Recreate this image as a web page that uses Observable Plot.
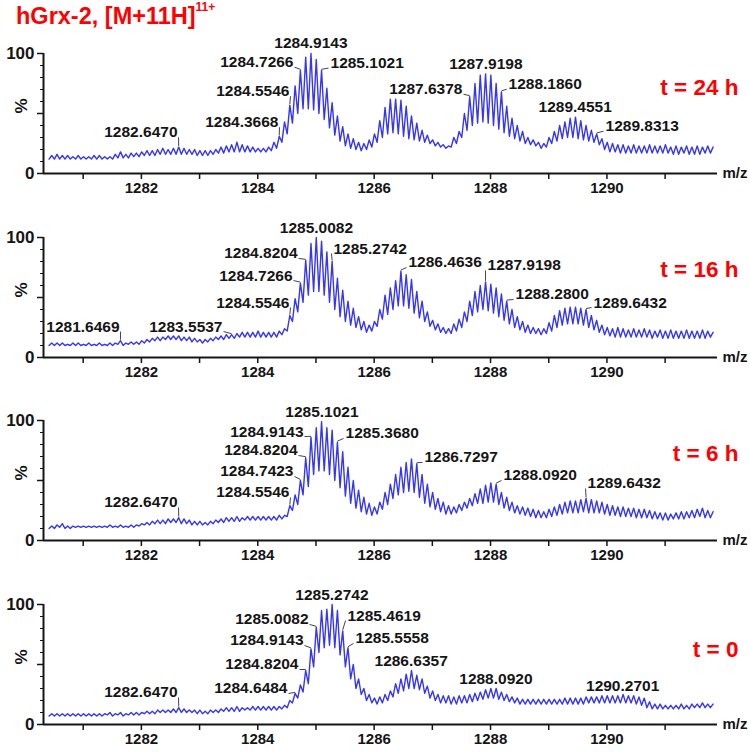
<!DOCTYPE html>
<html><head><meta charset="utf-8">
<script src="https://cdn.jsdelivr.net/npm/d3@7"></script>
<script src="https://cdn.jsdelivr.net/npm/@observablehq/plot@0.6"></script>
<style>
body{margin:0;background:#fff;width:750px;height:752px;overflow:hidden;font-family:Arial,"Liberation Sans",sans-serif;position:relative}
#title{position:absolute;left:16px;top:3px;color:#f00;font-weight:bold;font-size:23.5px;line-height:26px;white-space:nowrap}
#title sup{font-size:12px;position:relative;top:-2px;vertical-align:top;line-height:12px}
#charts{position:absolute;left:0;top:30px}
#charts svg{display:block}
</style></head><body>
<div id="title">hGrx-2, [M+11H]<sup>11+</sup></div>
<div id="charts"></div>
<script>
// ---- isotope grid (charge 11+, spacing 1/11 m/z) ----
const startMz = 1280.4598;
const isotopeStep = 1 / 11;

// ---- axis ticks ----
const xTickValues = [1281, 1282, 1283, 1284, 1285, 1286, 1287, 1288, 1289, 1290, 1291];
const xTickLabels = ["", "1282", "", "1284", "", "1286", "", "1288", "", "1290", ""];
const yMajorTicks = [0, 50, 100];
const yMinorTicks = [0, 10, 20, 30, 40, 50, 60, 70, 80, 90, 100];

const panelTimes = ["t = 24 h", "t = 16 h", "t = 6 h", "t = 0"];

// ---- spectra: isotope peak tops and the valley before each peak (% intensity) ----
const peaks24 = [
15,16,15,15,14,
15,14,14,15,15,14,14,16,18,16,17,
17,18,19,19,20,21,20,21,22,21,20,
20,19,19,19,20,22,23,24,26,24,23,
22,21,21,22,26,31,43,57,73,86,97,
100,95,86,71,59,48,39,33,29,26,25,
28,33,44,55,62,62,61,56,48,42,36,
32,28,26,24,23,30,35,50,64,75,82,
83,82,75,68,56,46,40,35,30,28,26,
25,30,35,40,43,46,47,44,40,36,33,
29,26,25,24,24,23,24,23,23,24,23,
23,24,22,23,22,23,22,23,22,23,22];
const valleys24 = [
12,12,12,12,12,
12,12,12,12,12,12,12,12,13,13,13,
14,14,15,15,15,16,16,16,16,16,16,
16,15,15,15,16,17,17,18,18,18,18,
18,18,18,18,19,21,26,33,42,50,54,
54,53,50,45,38,32,27,23,21,20,19,
20,22,26,30,33,34,33,31,29,28,27,
26,25,23,22,21,22,25,30,36,40,42,
43,42,40,37,34,31,29,27,25,24,23,
21,22,25,27,29,30,30,29,28,27,26,
24,20,18,18,17,17,17,17,17,17,17,
17,17,17,16,16,17,16,16,16,17,17];

const peaks16 = [
12,12,12,11,12,
12,11,12,11,12,11,12,12,14,12,13,
13,14,15,16,17,17,18,18,18,17,17,
16,15,15,16,17,18,19,19,20,21,21,
21,22,21,21,21,22,24,35,49,62,81,
95,100,97,88,80,66,56,47,41,34,30,
27,30,40,52,58,64,72,69,65,55,47,
38,31,28,25,24,28,32,38,47,55,60,
63,61,58,53,47,40,34,30,27,25,24,
24,29,35,39,41,42,42,41,40,35,31,
27,25,24,25,24,23,24,23,24,23,22,
23,22,23,22,22,23,22,22,23,22,21];
const valleys16 = [
10,10,10,10,10,
10,10,10,10,10,10,10,10,11,10,11,
11,11,12,13,14,14,15,15,15,14,14,
13,13,12,13,14,15,15,16,16,17,17,
17,17,17,17,17,17,19,22,30,38,46,
52,55,55,52,46,40,34,30,27,25,23,
21,22,26,32,36,40,43,43,41,37,33,
30,26,23,21,20,20,22,25,30,35,38,
40,39,37,34,31,28,25,23,21,20,20,
19,20,22,25,27,28,28,28,27,25,23,
21,19,18,17,17,17,17,17,17,17,16,
17,16,16,16,16,16,16,16,16,16,17];

const peaks6 = [
12,13,14,12,12,
12,12,12,12,12,12,13,12,13,12,13,
13,14,15,16,17,17,18,18,19,18,17,
16,16,15,16,17,18,19,19,20,19,20,
20,20,20,20,20,21,21,29,38,50,69,
86,94,99,94,92,82,74,61,50,42,36,
31,28,32,40,47,55,61,65,68,64,55,
47,40,35,32,29,28,30,32,35,39,43,
46,48,47,40,36,32,29,28,27,26,25,
24,26,28,30,32,33,33,34,35,34,33,
32,30,29,28,28,27,27,26,26,25,24,
23,23,22,23,24,24,25,26,27,25,24];
const valleys6 = [
10,10,11,10,10,
11,11,11,11,11,11,11,11,11,11,11,
11,12,13,13,14,14,14,15,15,14,14,
13,13,13,13,14,15,15,16,16,16,17,
17,17,17,17,17,17,18,20,25,30,38,
45,55,58,58,55,50,44,37,31,27,24,
22,21,22,26,30,35,38,40,41,40,36,
31,28,26,24,22,22,23,25,27,29,31,
31,32,32,30,27,25,23,22,21,20,19,
19,19,20,21,22,23,23,23,24,23,23,
23,22,21,21,20,20,20,19,19,19,18,
18,17,17,18,18,18,19,19,20,19,19];

const peaks0 = [
9,9,9,9,9,
9,9,9,9,9,9,10,9,10,9,10,
10,10,11,11,12,12,12,13,14,13,12,
12,12,11,12,12,13,14,14,15,14,14,
15,15,15,15,15,15,16,20,26,33,45,
63,81,95,96,100,95,78,64,50,38,30,
25,22,23,25,28,34,38,42,45,41,38,
32,28,25,24,24,23,24,24,25,26,27,
29,30,30,27,25,23,22,21,21,21,21,
21,21,21,21,22,22,22,22,23,23,23,
24,24,24,24,25,24,24,23,22,19,17,
17,16,16,16,17,16,17,17,18,17,17];
const valleys0 = [
7,7,7,7,7,
7,7,7,7,7,7,8,7,8,7,8,
8,8,9,9,9,10,10,10,10,10,10,
10,9,9,9,10,10,11,11,11,11,12,
12,12,12,12,12,12,13,14,18,22,27,
34,48,60,64,66,64,58,48,38,30,25,
20,18,17,18,20,23,26,28,30,30,29,
26,22,20,18,18,17,17,18,18,19,20,
21,22,22,21,20,19,18,17,17,17,17,
17,17,17,17,17,17,17,17,17,18,18,
18,18,18,18,18,18,18,17,16,14,13,
13,13,13,13,13,13,13,14,14,14,14];

// ---- peak annotations (m/z text) ----
const labels24 = ["1282.6470","1284.3668","1284.5546","1284.7266","1284.9143","1285.1021","1287.6378","1287.9198","1288.1860","1289.4551","1289.8313"];
const labels16 = ["1281.6469","1283.5537","1284.5546","1284.7266","1284.8204","1285.0082","1285.2742","1286.4636","1287.9198","1288.2800","1289.6432"];
const labels6  = ["1282.6470","1284.5546","1284.7423","1284.8204","1284.9143","1285.1021","1285.3680","1286.7297","1288.0920","1289.6432"];
const labels0  = ["1282.6470","1284.6484","1284.8204","1284.9143","1285.0082","1285.2742","1285.4619","1285.5558","1286.6357","1288.0920","1290.2701"];

// annotation placement: side of the peak, text anchor m/z (null = above peak), text centre in % units
const place24 = [["left",1282.621,34.4],["left",1284.356,42.75],["left",1284.545,68.6],["left",1284.614,92.75],["top",null,108.6],["right",1285.25,92],["left",1287.518,70.25],["top",null,91],["right",1288.31,74.4],["top",null,55.25],["right",1289.976,39.4]];
const place16 = [["left",1281.625,25.8],["left",1283.394,25.8],["left",1284.545,45.8],["left",1284.597,68.3],["left",1284.683,86.7],["top",null,107.5],["right",1285.301,90.8],["right",1286.59,79.2],["right",1287.948,76.7],["right",1288.429,52.5],["right",1289.77,45.8]];
const place6  = [["left",1282.621,31.7],["left",1284.545,40],["left",1284.614,57.5],["left",1284.683,75],["left",1284.786,90.8],["top",null,106.7],["right",1285.508,89.2],["right",1286.865,69.2],["right",1288.223,54.2],["right",1289.667,47.5]];
const place0  = [["left",1282.621,26.7],["left",1284.511,30],["left",1284.7,50],["left",1284.786,70],["left",1284.872,87.5],["top",null,108.3],["right",1285.542,90.8],["right",1285.68,71.7],["top",null,52.5],["top",null,38.3],["top",null,31.7]];

// ---- layout ----
const xDomain = [1280.318, 1291.9];
const W = 750, ML = 43, MR = 33, MT = 23;
const kx = (W - ML - MR) / (xDomain[1] - xDomain[0]); // px per m/z
const ky = 1.2; // px per % unit
const panels = [
  {time: panelTimes[0], peaks: peaks24, valleys: valleys24, labels: labels24, place: place24, height: 184, mb: 41, timeDy: 34},
  {time: panelTimes[1], peaks: peaks16, valleys: valleys16, labels: labels16, place: place16, height: 183, mb: 40, timeDy: 32},
  {time: panelTimes[2], peaks: peaks6,  valleys: valleys6,  labels: labels6,  place: place6,  height: 184, mb: 41, timeDy: 33},
  {time: panelTimes[3], peaks: peaks0,  valleys: valleys0,  labels: labels0,  place: place0,  height: 171, mb: 28, timeDy: 45}
];

function spectrum(peaks, valleys) {
  const pts = [];
  peaks.forEach((p, i) => {
    const mz = startMz + i * isotopeStep;
    pts.push({mz: mz - isotopeStep / 2, v: valleys[i]});
    pts.push({mz, v: p});
  });
  return pts;
}

function labelRows(texts, places, peaks) {
  return texts.map((t, j) => {
    const [side, tx, ty] = places[j];
    const mz = +t;
    const i = Math.round((mz - startMz) / isotopeStep);
    const gx = startMz + i * isotopeStep;
    const py = peaks[i];
    const row = {t, side, tx: side === "top" ? mz : tx, ty, x2: gx, y2: py + 1 / ky};
    if (side === "left") { row.x1 = tx + 1 / kx; row.y1 = ty - 5 / ky; }
    if (side === "right") { row.x1 = tx - 2 / kx; row.y1 = ty - 5 / ky; }
    return row;
  });
}

const tickLabelMap = new Map(xTickValues.map((d, i) => [d, xTickLabels[i]]));
const ink = "#151515";
const container = document.getElementById("charts");
const anchors = {left: "end", right: "start", top: "middle"};

panels.forEach(p => {
  const rows = labelRows(p.labels, p.place, p.peaks);
  const labelMarks = Object.entries(anchors).map(([side, anchor]) =>
    Plot.text(rows.filter(r => r.side === side), {x: "tx", y: "ty", text: "t", lineAnchor: "middle",
      textAnchor: anchor, fontSize: 15.5, fill: ink}));
  const chart = Plot.plot({
    width: W, height: p.height,
    marginLeft: ML, marginRight: MR, marginTop: MT, marginBottom: p.mb,
    x: {domain: xDomain},
    y: {domain: [0, 100]},
    style: {fontFamily: "Arial, 'Liberation Sans', sans-serif", fontSize: "15px", fontWeight: "bold", color: ink, background: "#fff", overflow: "visible"},
    marks: [
      Plot.axisX({ticks: xTickValues, tickFormat: d => tickLabelMap.get(d) ?? "", tickSize: 6, tickPadding: 3, strokeWidth: 1.5, label: null, fontSize: 15}),
      Plot.axisY({ticks: yMinorTicks, tickSize: 3, tickFormat: () => "", label: null, strokeWidth: 1}),
      Plot.axisY({ticks: yMajorTicks, tickSize: 6, tickPadding: 3, tickFormat: d => d === 50 ? "" : String(d), label: null, strokeWidth: 1.5, fontSize: 17}),
      Plot.text(["%"], {frameAnchor: "left", dx: -22, rotate: -90, fontSize: 17, fill: ink}),
      Plot.ruleY([0], {stroke: ink, strokeWidth: 2}),
      Plot.ruleX([xDomain[0]], {y1: 0, y2: 100, stroke: ink, strokeWidth: 2}),
      Plot.line(spectrum(p.peaks, p.valleys), {x: "mz", y: "v", stroke: "#3535f5", strokeWidth: 1.4}),
      Plot.link(rows.filter(r => r.side !== "top"), {x1: "x1", y1: "y1", x2: "x2", y2: "y2", stroke: "#444", strokeWidth: 1}),
      ...labelMarks,
      Plot.text([p.time], {frameAnchor: "top-right", dx: 21, dy: p.timeDy, textAnchor: "end", lineAnchor: "middle", fontSize: 22.5, fill: "#f00"}),
      Plot.text(["m/z"], {frameAnchor: "bottom-right", dx: 5, textAnchor: "start", lineAnchor: "middle", fontSize: 15, fill: ink})
    ]
  });
  container.appendChild(chart);
});
</script></body></html>
